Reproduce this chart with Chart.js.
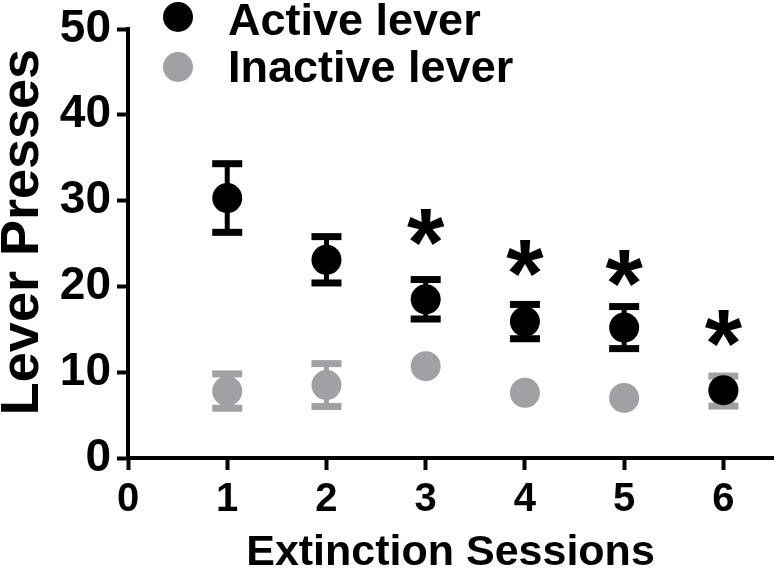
<!DOCTYPE html>
<html>
<head>
<meta charset="utf-8">
<script src="https://cdn.jsdelivr.net/npm/chart.js@4.4.0/dist/chart.umd.min.js"></script>
<style>
  html, body { margin: 0; padding: 0; background: #fff; }
  #wrap { width: 775px; height: 575px; }
</style>
</head>
<body>
<div id="wrap"><canvas id="myChart" width="775" height="575"></canvas></div>
<script>
// datos
var sessions = [1, 2, 3, 4, 5, 6];
var activeMean = [30.3, 23.1, 18.5, 15.9, 15.2, 7.9];
var activeSem = [4.0, 2.7, 2.3, 2.0, 2.45, 0];
var inactiveMean = [7.8, 8.5, 10.7, 7.6, 7.0, 7.8];
var inactiveSem = [2.0, 2.5, 0, 0, 0, 1.75];
var starSessions = [3, 4, 5, 6];
var starLevel = [26.9, 23.3, 22.2, 15.1];
var xTicks = [0, 1, 2, 3, 4, 5, 6];
var yTicks = [0, 10, 20, 30, 40, 50];

var FONT = "'Liberation Sans', Arial, sans-serif";
var BLACK = '#000000';
var GRAY = '#a1a1a5';

function toPoints(xs, ys) {
    return xs.map(function (x, i) { return { x: x, y: ys[i] }; });
}

// barras de error (SEM)
var errorBars = {
    id: 'errorBars',
    beforeDatasetsDraw: function (chart) {
        var ctx = chart.ctx;
        var yScale = chart.scales.y;
        // gris primero, negro encima
        for (var d = chart.data.datasets.length - 1; d >= 0; d--) {
            var ds = chart.data.datasets[d];
            var meta = chart.getDatasetMeta(d);
            ctx.save();
            ctx.strokeStyle = ds.backgroundColor;
            ctx.fillStyle = ds.backgroundColor;
            meta.data.forEach(function (pt, i) {
                var m = ds.data[i].y;
                var e = ds.sem[i];
                if (!e) return;
                var yTop = yScale.getPixelForValue(m + e);
                var yBot = yScale.getPixelForValue(m - e);
                ctx.lineWidth = 5;
                ctx.beginPath();
                ctx.moveTo(pt.x, yTop);
                ctx.lineTo(pt.x, yBot);
                ctx.stroke();
                ctx.fillRect(pt.x - 15, yTop - 3.5, 30, 7);
                ctx.fillRect(pt.x - 15, yBot - 3.5, 30, 7);
            });
            ctx.restore();
        }
    }
};

// asteriscos
var stars = {
    id: 'stars',
    afterDatasetsDraw: function (chart) {
        var ctx = chart.ctx;
        ctx.save();
        ctx.fillStyle = BLACK;
        ctx.font = 'bold 96px ' + FONT;
        ctx.textAlign = 'center';
        ctx.textBaseline = 'alphabetic';
        var m = ctx.measureText('*');
        var off = (m.actualBoundingBoxAscent - m.actualBoundingBoxDescent) / 2;
        starSessions.forEach(function (s, i) {
            var x = chart.scales.x.getPixelForValue(s);
            var y = chart.scales.y.getPixelForValue(starLevel[i]);
            ctx.fillText('*', x, y + off);
        });
        ctx.restore();
    }
};

// leyenda y titulo del eje y
var legendBox = {
    id: 'legendBox',
    afterDraw: function (chart) {
        var ctx = chart.ctx;
        var items = [
            { label: 'Active lever', color: BLACK, cy: 17, base: 35 },
            { label: 'Inactive lever', color: GRAY, cy: 67, base: 82 }
        ];
        ctx.save();
        ctx.font = 'bold 45px ' + FONT;
        ctx.textAlign = 'left';
        ctx.textBaseline = 'alphabetic';
        items.forEach(function (it) {
            ctx.fillStyle = it.color;
            ctx.beginPath();
            ctx.arc(178, it.cy, 15, 0, Math.PI * 2);
            ctx.fill();
            ctx.fillStyle = BLACK;
            ctx.fillText(it.label, 228, it.base);
        });
        ctx.restore();

        ctx.save();
        ctx.translate(23, 232);
        ctx.rotate(-Math.PI / 2);
        ctx.font = 'bold 54px ' + FONT;
        ctx.fillStyle = BLACK;
        ctx.textAlign = 'center';
        ctx.textBaseline = 'middle';
        ctx.fillText('Lever Presses', 0, 0);
        ctx.restore();
    }
};

var ctx = document.getElementById('myChart').getContext('2d');
var myChart = new Chart(ctx, {
    type: 'scatter',
    data: {
        datasets: [{
            label: 'Active lever',
            data: toPoints(sessions, activeMean),
            sem: activeSem,
            backgroundColor: BLACK,
            borderWidth: 0,
            pointRadius: 15,
        }, {
            label: 'Inactive lever',
            data: toPoints(sessions, inactiveMean),
            sem: inactiveSem,
            backgroundColor: GRAY,
            borderWidth: 0,
            pointRadius: 15,
        }]
    },
    options: {
        responsive: false,
        animation: false,
        layout: { autoPadding: false, padding: { top: 27, right: 2, left: 0, bottom: 0 } },
        plugins: {
            legend: { display: false },
            tooltip: { enabled: false }
        },
        scales: {
            x: {
                type: 'linear',
                min: 0,
                max: 6.5,
                afterBuildTicks: function (scale) {
                    scale.ticks = xTicks.map(function (v) { return { value: v }; });
                },
                afterFit: function (scale) {
                    scale.height = 117;
                    scale.paddingLeft = 0;
                    scale.paddingRight = 0;
                },
                grid: { drawOnChartArea: false, drawTicks: true, tickLength: 12, tickWidth: 4, tickColor: BLACK },
                border: { display: true, width: 4, color: BLACK },
                ticks: { color: BLACK, padding: 10, maxRotation: 0, font: { family: FONT, size: 40, weight: 'bold', lineHeight: 1 } },
                title: { display: true, text: 'Extinction Sessions', color: BLACK, padding: 0, font: { family: FONT, size: 43, weight: 'bold', lineHeight: 1 } }
            },
            y: {
                min: 0,
                max: 50,
                afterBuildTicks: function (scale) {
                    scale.ticks = yTicks.map(function (v) { return { value: v }; });
                },
                afterFit: function (scale) { scale.width = 128; },
                grid: { drawOnChartArea: false, drawTicks: true, tickLength: 11, tickWidth: 4, tickColor: BLACK },
                border: { display: true, width: 4, color: BLACK },
                ticks: { color: BLACK, padding: 6, font: { family: FONT, size: 46, weight: 'bold', lineHeight: 1 } },
                title: { display: false }
            }
        }
    },
    plugins: [errorBars, stars, legendBox]
});
</script>
</body>
</html>
